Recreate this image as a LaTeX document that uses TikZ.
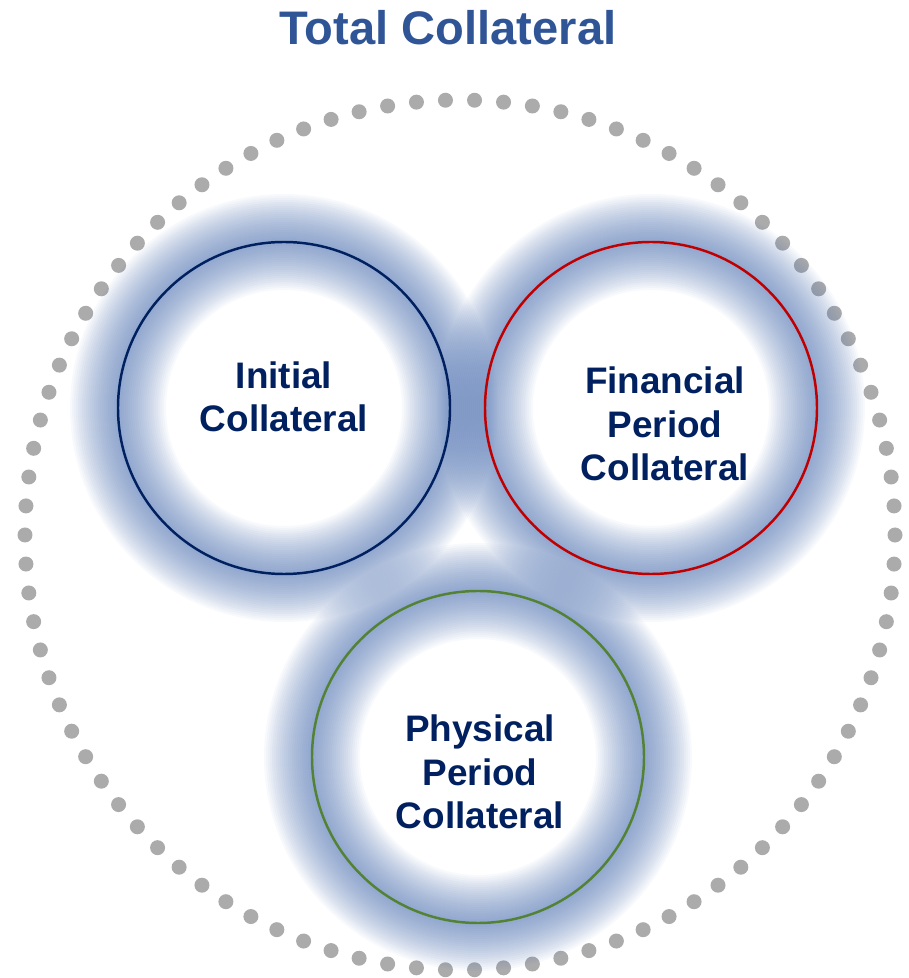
\documentclass[tikz,border=0pt]{standalone}
\usepackage{fontspec}
\setmainfont{Liberation Sans}
\definecolor{navy}{HTML}{002060}
\definecolor{titleblue}{HTML}{2F5597}
\definecolor{glowblue}{HTML}{4F72B0}
\definecolor{dotgray}{HTML}{ABABAB}
\definecolor{ringred}{HTML}{C00000}
\definecolor{ringgreen}{HTML}{548235}

\begin{document}
\begin{tikzpicture}[
glow/.style = {draw=glowblue, line width=#1, opacity=0.04},
ring/.style = {circle, draw=#1, line width=0.7pt, minimum size=3.32cm, inner sep=0pt},
caption/.style = {align=center, text=navy, font=\bfseries\fontsize{10.5}{12.4}\selectfont}]
\useasboundingbox (0,0) rectangle (9.08,9.78);

\node[text=titleblue, font=\bfseries\fontsize{13.4}{16}\selectfont] (title) at (4.48,9.50) {Total Collateral};

% dotted outer circle
\coordinate (hub) at (4.60,4.43);
\draw[dotgray, line width=0.15cm, line cap=round, dash pattern=on 0pt off 0.2908cm] (hub) circle (4.35);

\coordinate (ini) at (2.84,5.70);
\coordinate (fin) at (6.51,5.70);
\coordinate (phy) at (4.78,2.21);

% soft glow round the rings
\foreach \c in {ini,fin,phy}
    \foreach \k in {1,...,24}
        \draw[glow=\k*0.04cm] (\c) circle (1.66);

\node[ring=navy] (initial) at (ini) {};
\node[ring=ringred] (financial) at (fin) {};
\node[ring=ringgreen] (physical) at (phy) {};

\node[caption] (initext) at ([yshift=0.11cm]initial) {Initial\\Collateral};
\node[caption] (fintext) at ([xshift=0.14cm,yshift=-0.16cm]financial) {Financial\\Period\\Collateral};
\node[caption] (phytext) at ([xshift=0.02cm,yshift=-0.15cm]physical) {Physical\\Period\\Collateral};
\end{tikzpicture}
\end{document}
